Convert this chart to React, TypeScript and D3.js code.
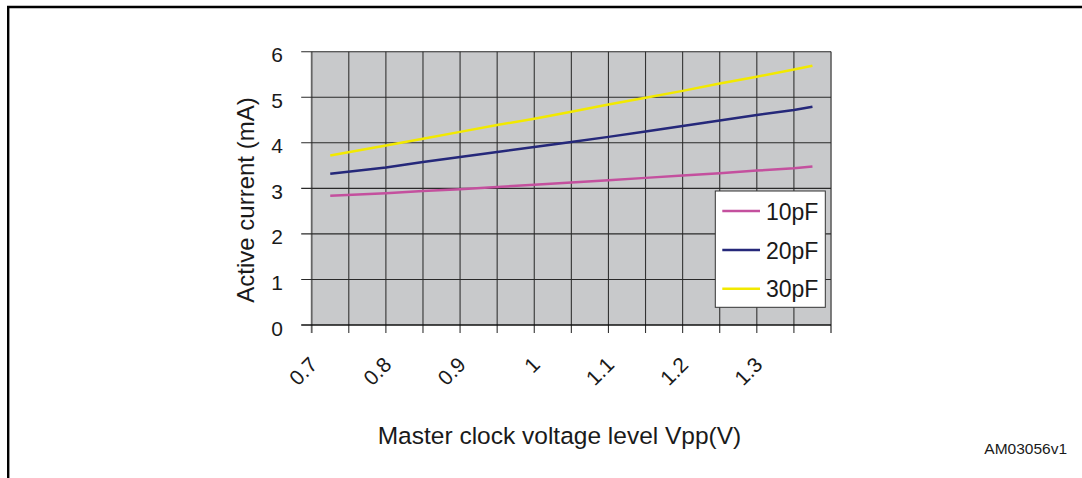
import React from "react";
import * as d3 from "d3";

const xValues = [0.725, 0.8, 0.85, 0.9, 0.95, 1.0, 1.05, 1.1, 1.15, 1.2, 1.25, 1.3, 1.35, 1.375];
const series30pF = [3.72, 3.94, 4.09, 4.24, 4.39, 4.53, 4.68, 4.84, 4.99, 5.14, 5.3, 5.45, 5.61, 5.69];
const series20pF = [3.32, 3.46, 3.58, 3.69, 3.8, 3.91, 4.02, 4.13, 4.25, 4.37, 4.49, 4.61, 4.72, 4.79];
const series10pF = [2.84, 2.89, 2.94, 2.98, 3.03, 3.08, 3.13, 3.18, 3.23, 3.28, 3.33, 3.39, 3.44, 3.48];
const seriesNames = ["10pF", "20pF", "30pF"];
const seriesColors = ["#c4509e", "#25287a", "#f2e900"];
const xTickLabels = ["0.7", "0.8", "0.9", "1", "1.1", "1.2", "1.3"];
const yTicks = [0, 1, 2, 3, 4, 5, 6];

const FONT = "'Liberation Sans', Arial, Helvetica, sans-serif";

export default function App() {
  const left = 311.7, right = 831, top = 51.7, bottom = 325;
  const x = d3.scaleLinear().domain([0.7, 1.4]).range([left, right]);
  const y = d3.scaleLinear().domain([0, 6]).range([bottom, top]);
  const gridX = d3.range(0, 15).map((i) => 0.7 + i * 0.05);
  const allSeries = [series10pF, series20pF, series30pF];
  const line = d3
    .line<number>()
    .x((_, i) => x(xValues[i]))
    .y((d) => y(d));

  const legend = { x: 715.3, y: 191, w: 110, h: 116.3 };
  const legendRows = [211, 250, 288.7];

  return (
    <svg
      width={1082}
      height={478}
      style={{ position: "absolute", left: 0, top: 0, background: "#fff" }}
      fontFamily={FONT}
    >
      {/* frame */}
      <line x1={7} y1={7} x2={1082} y2={7} stroke="#000" strokeWidth={2.6} />
      <line x1={8.2} y1={6} x2={8.2} y2={478} stroke="#000" strokeWidth={2.4} />

      {/* plot background */}
      <rect x={left} y={top} width={right - left} height={bottom - top} fill="#c8c9cb" />

      {/* vertical grid */}
      {gridX.map((v, i) => (
        <line
          key={"gx" + i}
          x1={x(v)}
          x2={x(v)}
          y1={top}
          y2={bottom + 8}
          stroke={i === 0 ? "#666" : "#333"}
          strokeWidth={i === 0 ? 1.8 : 1.1}
        />
      ))}
      <line x1={right} x2={right} y1={top} y2={bottom + 8} stroke="#777" strokeWidth={1.3} />

      {/* horizontal grid */}
      {yTicks.map((t) => (
        <line
          key={"gy" + t}
          x1={left - 10.5}
          x2={right}
          y1={y(t)}
          y2={y(t)}
          stroke={t === 0 ? "#111" : "#2a2a2a"}
          strokeWidth={t === 0 ? 1.4 : 1.1}
        />
      ))}

      {/* y tick labels */}
      {yTicks.map((t) => (
        <text
          key={"yl" + t}
          x={283}
          y={y(t) + 3}
          textAnchor="end"
          dominantBaseline="central"
          fontSize={21}
          fill="#1a1a1a"
        >
          {t}
        </text>
      ))}

      {/* x tick labels */}
      {xTickLabels.map((lab, i) => {
        const tx = x(0.7 + i * 0.1) + 7;
        const ty = 366;
        return (
          <text
            key={"xl" + i}
            x={tx}
            y={ty}
            textAnchor="end"
            fontSize={21}
            fill="#1a1a1a"
            transform={`rotate(-45 ${tx} ${ty})`}
          >
            {lab}
          </text>
        );
      })}

      {/* data lines */}
      {allSeries.map((s, i) => (
        <path
          key={"s" + i}
          d={line(s) || ""}
          fill="none"
          stroke={seriesColors[i]}
          strokeWidth={2.5}
        />
      ))}

      {/* legend */}
      <rect
        x={legend.x}
        y={legend.y}
        width={legend.w}
        height={legend.h}
        fill="#fff"
        stroke="#333"
        strokeWidth={1}
      />
      {seriesNames.map((n, i) => (
        <g key={"lg" + i}>
          <line
            x1={722.3}
            x2={760}
            y1={legendRows[i]}
            y2={legendRows[i]}
            stroke={seriesColors[i]}
            strokeWidth={2.5}
          />
          <text x={766} y={legendRows[i] + 8.5} fontSize={23} fill="#1a1a1a">
            {n}
          </text>
        </g>
      ))}

      {/* axis titles */}
      <text
        x={254}
        y={200}
        textAnchor="middle"
        fontSize={24}
        fill="#1a1a1a"
        transform="rotate(-90 254 200)"
      >
        Active current (mA)
      </text>
      <text x={559.5} y={443.5} textAnchor="middle" fontSize={24.5} fill="#1a1a1a">
        Master clock voltage level Vpp(V)
      </text>

      <text x={984.3} y={454.3} fontSize={15.5} fill="#1a1a1a">
        AM03056v1
      </text>
    </svg>
  );
}
